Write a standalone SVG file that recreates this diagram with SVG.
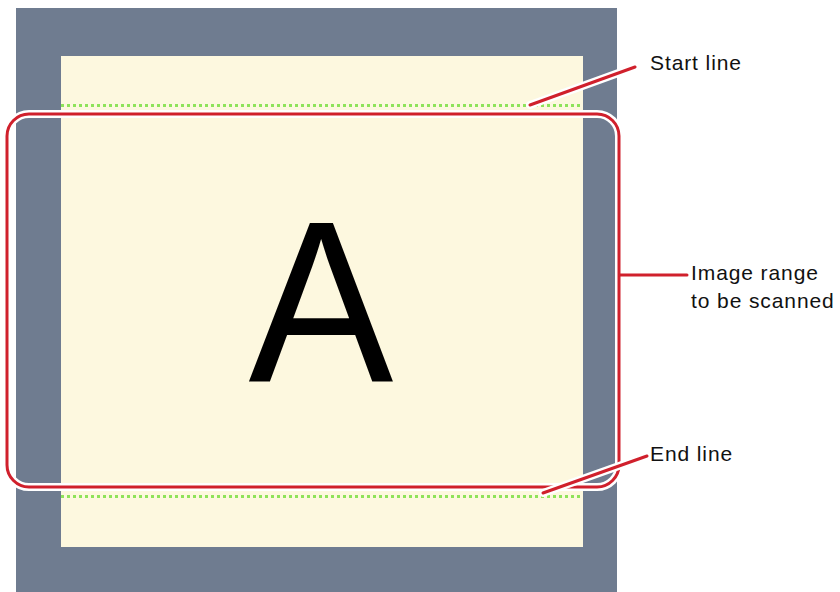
<svg xmlns="http://www.w3.org/2000/svg" width="840" height="592" viewBox="0 0 840 592">
<style>
.lbl{font-family:"Liberation Sans",Arial,sans-serif;font-size:21px;letter-spacing:0.9px;fill:#111}
.halo{fill:none;stroke:#fff;stroke-width:8;stroke-linecap:round}
.red{fill:none;stroke:#d0202c;stroke-width:3;stroke-linecap:round}
.dots{stroke:#8ee35a;stroke-width:3;stroke-dasharray:3 3}
</style>
<rect width="840" height="592" fill="#fff"/>
<g id="platen">
<rect x="16" y="8" width="601" height="584" fill="#6f7c90"/>
<rect x="61" y="56" width="522" height="491" fill="#fdf8df"/>
<text transform="translate(321 381) scale(0.94 1)" font-family="Liberation Sans,Arial,sans-serif" font-size="231" text-anchor="middle" fill="#000">A</text>
</g>
<g id="start-line"><line class="dots" x1="61" y1="105.5" x2="583" y2="105.5"/></g>
<g id="end-line"><line class="dots" x1="61" y1="496.5" x2="583" y2="496.5"/></g>
<g id="scan-range">
<rect class="halo" x="7" y="114" width="612" height="373" rx="22"/>
<rect class="red" x="7" y="114" width="612" height="373" rx="22"/>
</g>
<g id="connectors">
<line class="halo" x1="530" y1="105" x2="635" y2="67"/>
<line class="red" x1="530" y1="105" x2="635" y2="67"/>
<line class="red" x1="620" y1="275" x2="687" y2="275"/>
<line class="halo" x1="543" y1="493" x2="647" y2="456"/>
<line class="red" x1="543" y1="493" x2="647" y2="456"/>
</g>
<g id="labels">
<text class="lbl" x="650" y="70">Start line</text>
<text class="lbl" x="691" y="280">Image range</text>
<text class="lbl" x="691" y="308">to be scanned</text>
<text class="lbl" x="650" y="461">End line</text>
</g>
</svg>
